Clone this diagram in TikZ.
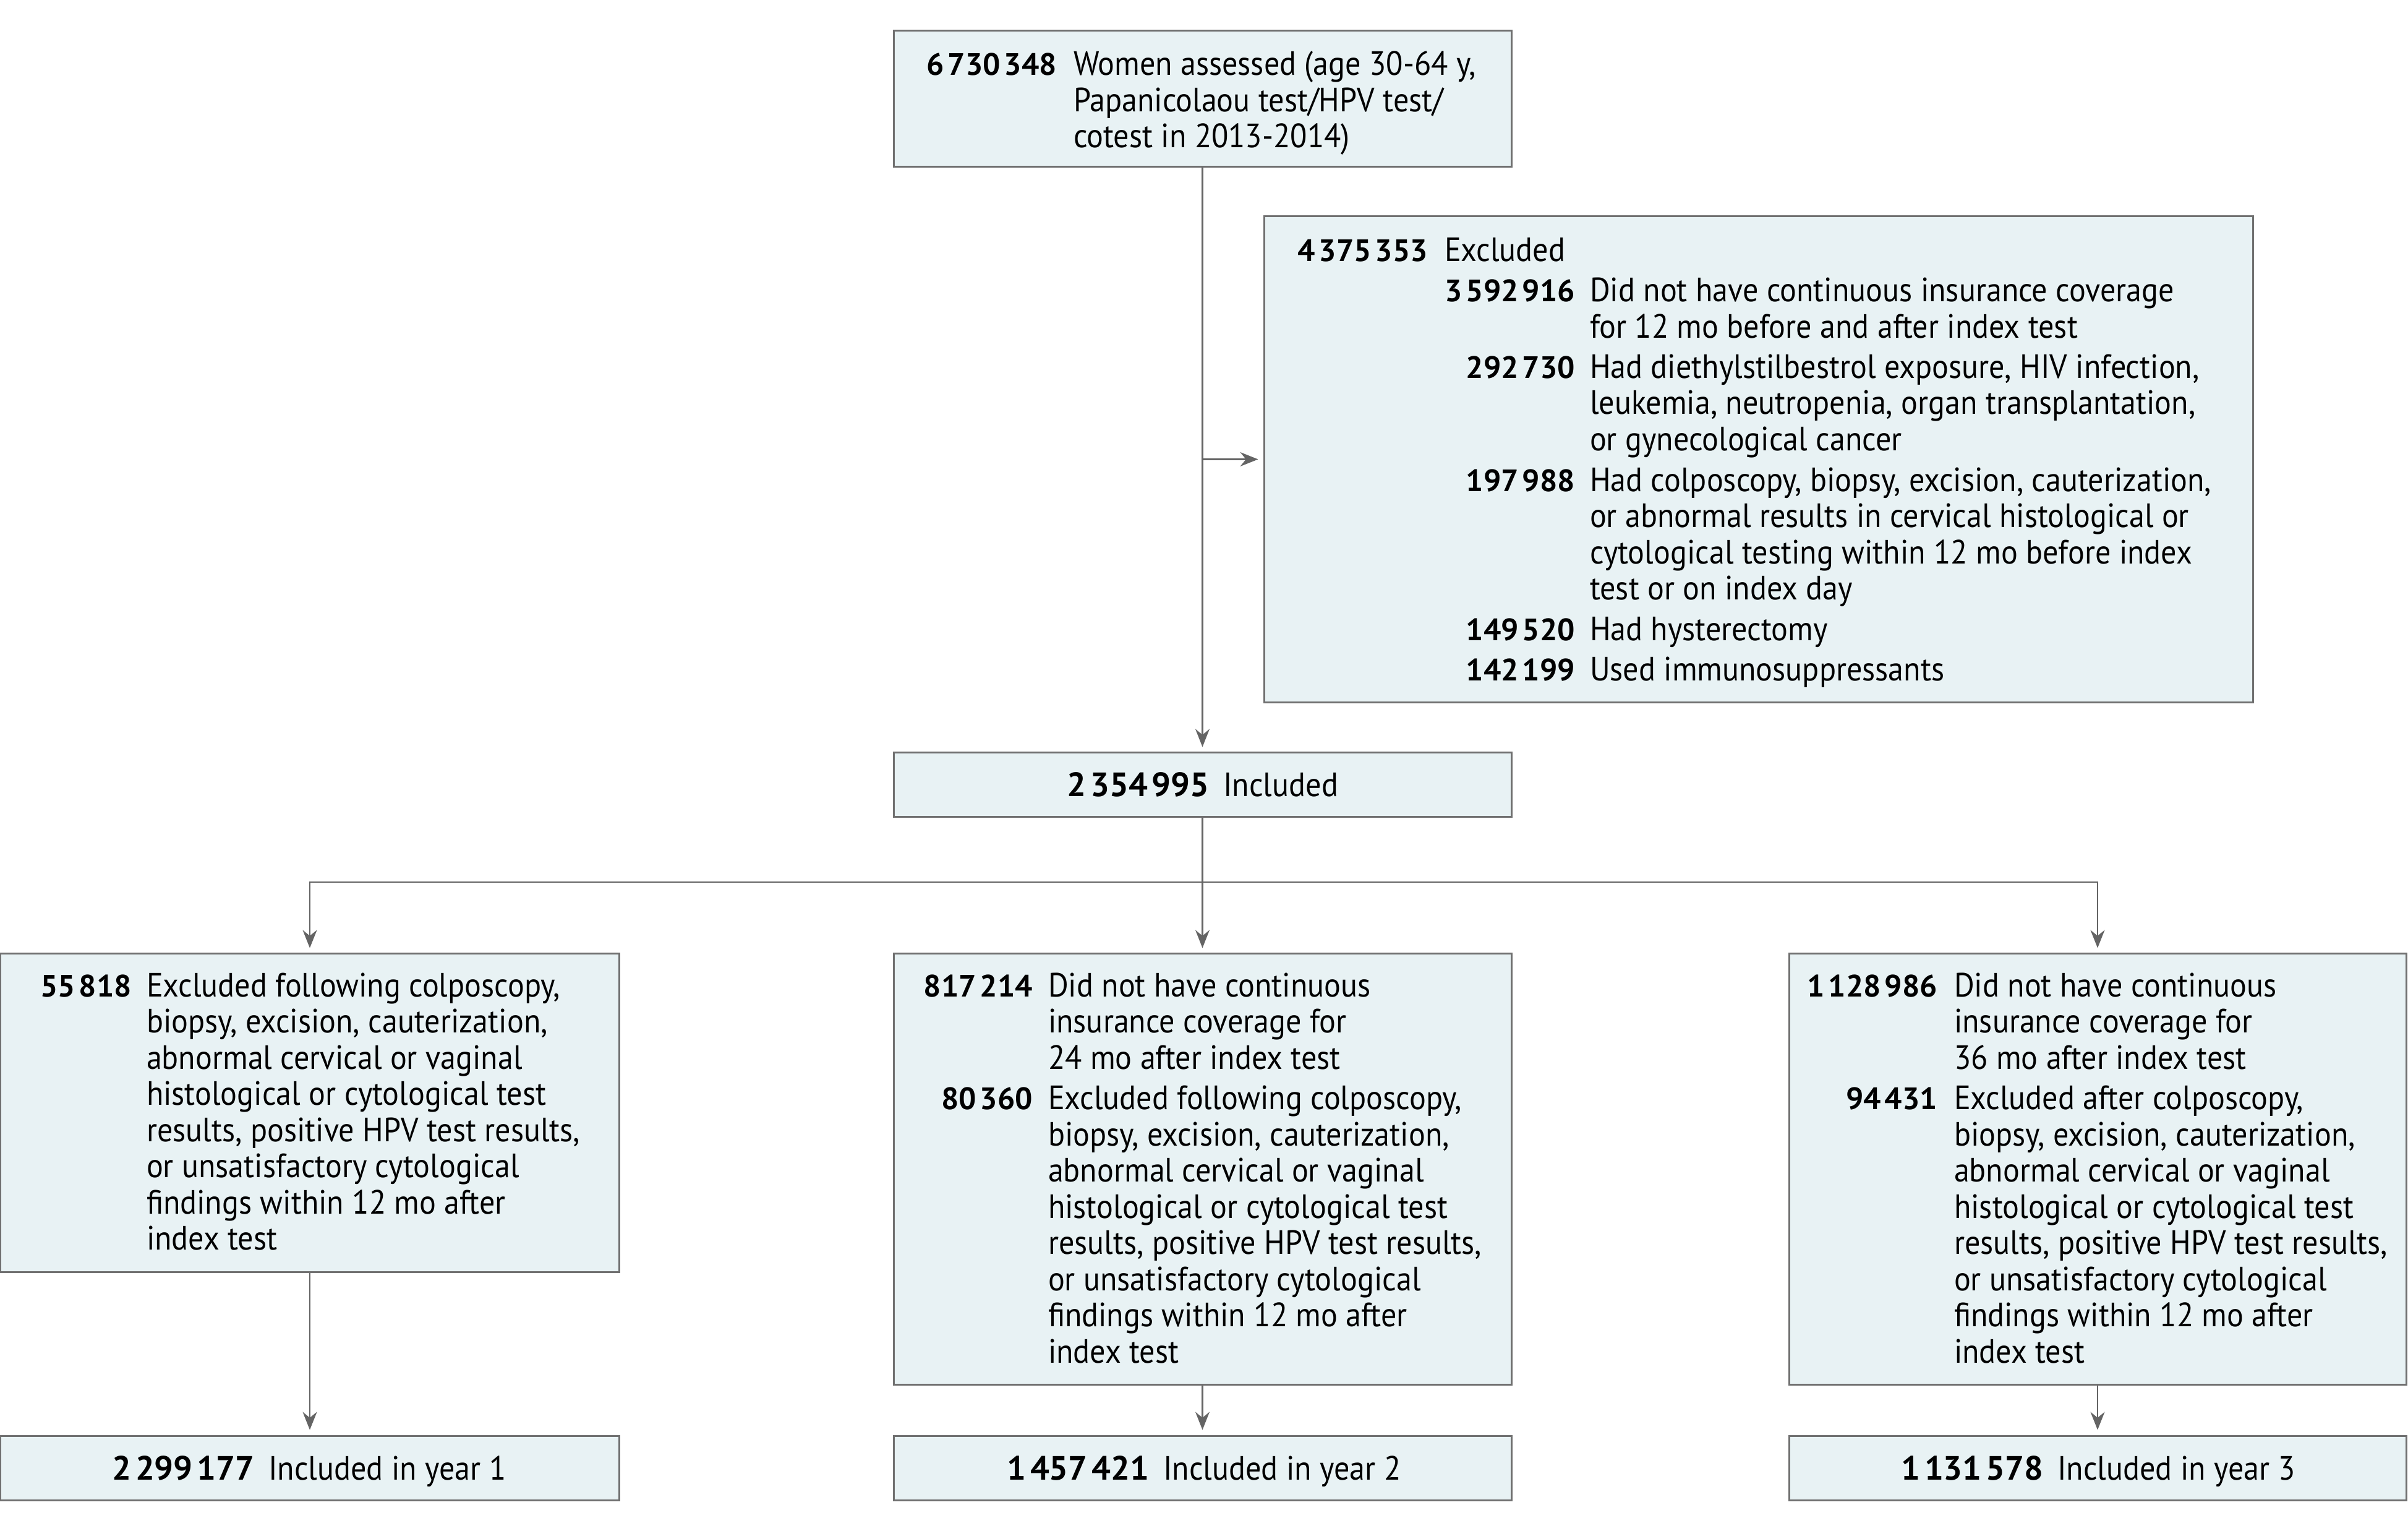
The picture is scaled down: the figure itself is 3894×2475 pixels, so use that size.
\documentclass[tikz,border=0pt]{standalone}
\usepackage{fontspec}
\setmainfont{PT Sans}[FakeStretch=0.92]
\newfontfamily\numfont{PT Sans}
\usetikzlibrary{arrows.meta}
\definecolor{boxfill}{RGB}{232,242,244}
\definecolor{boxline}{RGB}{112,112,112}
\definecolor{arrcol}{RGB}{100,100,100}
\newcommand{\ths}{\kern0.12em}
\newcommand{\mlines}[1]{\vtop{\halign{##\hfil\cr#1\crcr}}}
\newcommand{\bnum}[1]{{\numfont\bfseries #1}}
\tikzset{
  box/.style={draw=boxline, fill=boxfill, line width=0.6pt, rectangle, inner sep=0pt},
  num/.style={font=\numfont\bfseries, anchor=base east, inner sep=0pt},
  txt/.style={anchor=base west, inner sep=0pt},
  ctxt/.style={anchor=base, inner sep=0pt},
  conn/.style={draw=arrcol, line width=0.45pt},
  arrow/.style={conn, -{Stealth[length=5.8pt,width=4.6pt]}, shorten >=1.6pt},
}
\begin{document}
\begin{tikzpicture}[x=0.2pt,y=-0.2pt,font=\fontsize{10.9}{11.7}\selectfont]
\useasboundingbox (0,0) rectangle (3894,2475);
% boxes
\node[box, minimum width=199.8pt, minimum height=44pt] (top) at (1944.5,160) {};
\node[box, minimum width=319.8pt, minimum height=157pt] (excl) at (2843.5,742.5) {};
\node[box, minimum width=199.8pt, minimum height=20.6pt] (incl) at (1944.5,1268.5) {};
\node[box, minimum width=200pt, minimum height=102.8pt] (L1) at (501,1799) {};
\node[box, minimum width=199.8pt, minimum height=139.2pt] (M1) at (1944.5,1890) {};
\node[box, minimum width=199.6pt, minimum height=139.2pt] (R1) at (3392,1890) {};
\node[box, minimum width=200pt, minimum height=20.8pt] (L2) at (501,2373) {};
\node[box, minimum width=199.8pt, minimum height=20.8pt] (M2) at (1944.5,2373) {};
\node[box, minimum width=199.6pt, minimum height=20.8pt] (R2) at (3392,2373) {};
% connectors
\draw[arrow] (top.south) -- (incl.north);
\draw[arrow] (top.south |- excl.west) -- (excl.west);
\coordinate (split) at (1944.5,1426);
\draw[conn] (incl.south) -- (split);
\draw[arrow] (split) -- (M1.north);
\draw[arrow] (split) -| (L1.north);
\draw[arrow] (split) -| (R1.north);
\draw[arrow] (L1.south) -- (L2.north);
\draw[arrow] (M1.south) -- (M2.north);
\draw[arrow] (R1.south) -- (R2.north);
% top text
\node[num] (n0) at (1710,122) {6\ths730\ths348};
\node[txt] (t0) at (1735,122) {\mlines{Women assessed (age 30-64 y,\cr Papanicolaou test/HPV test/\cr cotest in 2013-2014)}};
% excluded text
\node[num] (ne) at (2310,423) {4\ths375\ths353};
\node[txt] (te) at (2335,423) {Excluded};
\node[num] (ne1) at (2548,488) {3\ths592\ths916};
\node[txt] (te1) at (2570,488) {\mlines{Did not have continuous insurance coverage\cr for 12 mo before and after index test}};
\node[num] (ne2) at (2548,611.5) {292\ths730};
\node[txt] (te2) at (2570,611.5) {\mlines{Had diethylstilbestrol exposure, HIV infection,\cr leukemia, neutropenia, organ transplantation,\cr or gynecological cancer}};
\node[num] (ne3) at (2548,794.5) {197\ths988};
\node[txt] (te3) at (2570,794.5) {\mlines{Had colposcopy, biopsy, excision, cauterization,\cr or abnormal results in cervical histological or\cr cytological testing within 12 mo before index\cr test or on index day}};
\node[num] (ne4) at (2548,1035.5) {149\ths520};
\node[txt] (te4) at (2570,1035.5) {Had hysterectomy};
\node[num] (ne5) at (2548,1101) {142\ths199};
\node[txt] (te5) at (2570,1101) {Used immunosuppressants};
% included
\node[ctxt] (ti) at (1945,1287) {\bnum{2\ths354\ths995}\hspace{4.6pt}Included};
% left
\node[num] (nl) at (214,1611) {55\ths818};
\node[txt] (tl) at (236,1611) {\mlines{Excluded following colposcopy,\cr biopsy, excision, cauterization,\cr abnormal cervical or vaginal\cr histological or cytological test\cr results, positive HPV test results,\cr or unsatisfactory cytological\cr findings within 12 mo after\cr index test}};
% middle
\node[num] (nm1) at (1671,1611) {817\ths214};
\node[txt] (tm1) at (1694,1611) {\mlines{Did not have continuous\cr insurance coverage for\cr 24 mo after index test}};
\node[num] (nm2) at (1671,1793.5) {80\ths360};
\node[txt] (tm2) at (1694,1793.5) {\mlines{Excluded following colposcopy,\cr biopsy, excision, cauterization,\cr abnormal cervical or vaginal\cr histological or cytological test\cr results, positive HPV test results,\cr or unsatisfactory cytological\cr findings within 12 mo after\cr index test}};
% right
\node[num] (nr1) at (3134,1611) {1\ths128\ths986};
\node[txt] (tr1) at (3159,1611) {\mlines{Did not have continuous\cr insurance coverage for\cr 36 mo after index test}};
\node[num] (nr2) at (3134,1793.5) {94\ths431};
\node[txt] (tr2) at (3159,1793.5) {\mlines{Excluded after colposcopy,\cr biopsy, excision, cauterization,\cr abnormal cervical or vaginal\cr histological or cytological test\cr results, positive HPV test results,\cr or unsatisfactory cytological\cr findings within 12 mo after\cr index test}};
% finals
\node[ctxt] (f1) at (500,2392) {\bnum{2\ths299\ths177}\hspace{4.6pt}Included in year 1};
\node[ctxt] (f2) at (1947,2392) {\bnum{1\ths457\ths421}\hspace{4.6pt}Included in year 2};
\node[ctxt] (f3) at (3393,2392) {\bnum{1\ths131\ths578}\hspace{4.6pt}Included in year 3};
\end{tikzpicture}
\end{document}
